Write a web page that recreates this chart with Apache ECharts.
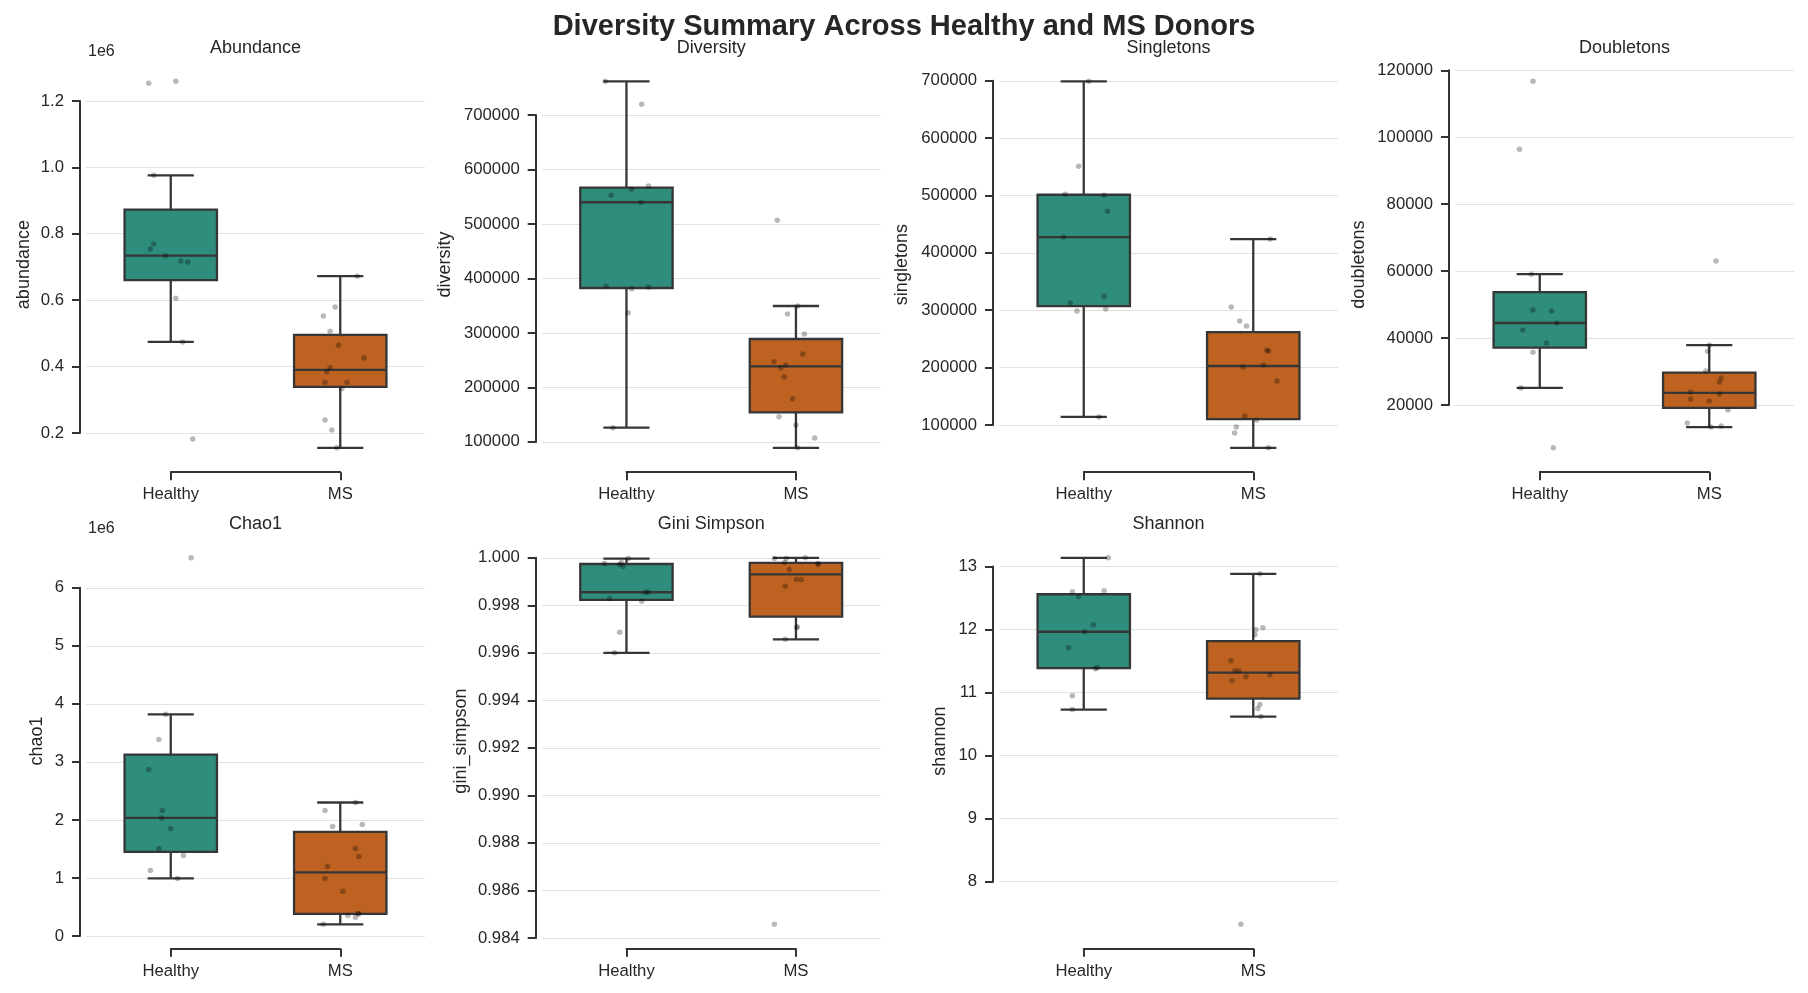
<!DOCTYPE html>
<html>
<head>
<meta charset="utf-8">
<script src="https://cdn.jsdelivr.net/npm/echarts@6/dist/echarts.min.js"></script>
<style>
html, body { margin: 0; padding: 0; background: #fff; }
#chart { width: 1808px; height: 993px; }
</style>
</head>
<body>
<div id="chart"></div>
<script>
// diversity metrics per donor; *Dx = strip jitter (category units)
const groups = ['Healthy', 'MS'];

const abundanceHealthy = [1253000, 1259000, 976000, 769000, 754000, 734000, 718000, 715000, 606000, 474000, 182000];
const abundanceHealthyDx = [-0.13, 0.03, -0.10, -0.10, -0.12, -0.03, 0.06, 0.10, 0.03, 0.07, 0.13];
const abundanceMs = [672000, 579000, 552000, 506000, 464000, 426000, 396000, 384000, 353000, 353000, 334000, 239000, 209000, 155000];
const abundanceMsDx = [0.10, -0.03, -0.10, -0.06, -0.01, 0.14, -0.06, -0.08, -0.09, 0.04, 0.01, -0.09, -0.05, -0.02];

const diversityHealthy = [762000, 720000, 570000, 564000, 553000, 540000, 386000, 384000, 381000, 337000, 126000];
const diversityHealthyDx = [-0.125, 0.09, 0.13, 0.03, -0.09, 0.085, -0.12, 0.13, 0.03, 0.01, -0.08];
const diversityMs = [507000, 349500, 335000, 298000, 261500, 247000, 241000, 236000, 219000, 179000, 146000, 131000, 107000, 89000];
const diversityMsDx = [-0.11, 0.01, -0.05, 0.05, 0.04, -0.13, -0.06, -0.09, -0.07, -0.02, -0.10, 0.00, 0.11, 0.01];

const singletonsHealthy = [699000, 551000, 502000, 500500, 472500, 427500, 324500, 312500, 302000, 298500, 114000];
const singletonsHealthyDx = [0.03, -0.03, -0.11, 0.12, 0.14, -0.12, 0.12, -0.08, 0.13, -0.04, 0.09];
const singletonsMs = [424000, 305500, 281000, 272500, 230000, 229000, 204500, 201000, 176500, 115500, 108500, 96500, 86000, 60000];
const singletonsMsDx = [0.10, -0.13, -0.08, -0.04, 0.08, 0.09, 0.06, -0.06, 0.14, -0.05, 0.02, -0.10, -0.11, 0.09];

const doubletonsHealthy = [116700, 96400, 59100, 48400, 48100, 44500, 42400, 38500, 35800, 25100, 7200];
const doubletonsHealthyDx = [-0.04, -0.12, -0.05, -0.04, 0.07, 0.10, -0.10, 0.04, -0.04, -0.11, 0.08];
const doubletonsMs = [63000, 37900, 36100, 30200, 28100, 26900, 23900, 23300, 21800, 21200, 18500, 14600, 13400, 13700];
const doubletonsMsDx = [0.04, 0.00, -0.01, -0.02, 0.07, 0.06, -0.11, 0.06, -0.11, 0.00, 0.11, -0.13, 0.01, 0.07];

const chao1Healthy = [6516000, 3820000, 3384000, 2868000, 2162000, 2035000, 1853000, 1508000, 1388000, 1130000, 992000];
const chao1HealthyDx = [0.12, -0.03, -0.07, -0.13, -0.05, -0.055, 0.00, -0.07, 0.075, -0.12, 0.04];
const chao1Ms = [2300000, 2162000, 1922000, 1887000, 1508000, 1371000, 1199000, 992000, 769000, 388000, 378000, 355000, 321000, 200000];
const chao1MsDx = [0.09, -0.09, 0.13, -0.045, 0.09, 0.11, -0.075, -0.09, 0.015, 0.105, 0.11, 0.045, 0.09, -0.10];

const giniHealthy = [0.99997, 0.99980, 0.99976, 0.99972, 0.99964, 0.99855, 0.99855, 0.99829, 0.99817, 0.99687, 0.99600];
const giniHealthyDx = [0.01, -0.03, -0.13, -0.04, -0.02, 0.11, 0.127, -0.10, 0.09, -0.04, -0.07];
const giniMs = [1.00000, 0.99997, 0.99997, 0.99980, 0.99976, 0.99972, 0.99951, 0.99909, 0.99909, 0.99880, 0.99710, 0.99706, 0.99657, 0.98457];
const giniMsDx = [0.055, -0.127, -0.057, -0.068, 0.131, 0.13, -0.039, 0.002, 0.031, -0.063, 0.008, 0.004, -0.063, -0.127];

const shannonHealthy = [13.137, 12.615, 12.599, 12.520, 12.076, 11.965, 11.712, 11.395, 11.379, 10.951, 10.730];
const shannonHealthyDx = [0.145, 0.12, -0.067, -0.031, 0.057, 0.004, -0.09, 0.08, 0.069, -0.067, -0.067];
const shannonMs = [12.884, 12.029, 11.997, 11.918, 11.506, 11.347, 11.347, 11.284, 11.252, 11.189, 10.809, 10.746, 10.619, 7.324];
const shannonMsDx = [0.039, 0.057, 0.016, 0.01, -0.131, -0.108, -0.084, 0.098, -0.043, -0.125, 0.039, 0.027, 0.045, -0.073];

// tick values
const abundanceTicks = [200000, 400000, 600000, 800000, 1000000, 1200000];
const diversityTicks = [100000, 200000, 300000, 400000, 500000, 600000, 700000];
const singletonsTicks = [100000, 200000, 300000, 400000, 500000, 600000, 700000];
const doubletonsTicks = [20000, 40000, 60000, 80000, 100000, 120000];
const chao1Ticks = [0, 1000000, 2000000, 3000000, 4000000, 5000000, 6000000];
const giniTicks = [0.984, 0.986, 0.988, 0.990, 0.992, 0.994, 0.996, 0.998, 1.000];
const shannonTicks = [8, 9, 10, 11, 12, 13];

const FONT = '"Liberation Sans", Arial, sans-serif';
const TEXT = '#262626';
const EDGE = '#363636';
const SPINE = '#333333';
const GRIDLINE = '#e2e2e2';
const FILLS = ['#2f8d7d', '#bd6220'];
const BOX_W = 0.545;
const OFFSET = 6;
const PW = 339, PH = 403.2;
const colLeft = [86, 541.7, 999, 1455];
const rowTop = [63, 539.5];

const panels = [
    { title: 'Abundance', label: 'abundance', h: abundanceHealthy, hDx: abundanceHealthyDx, m: abundanceMs, mDx: abundanceMsDx,
      ticks: abundanceTicks, fmt: v => (v / 1e6).toFixed(1), exp: '1e6', col: 0, row: 0, nameGap: 53 },
    { title: 'Diversity', label: 'diversity', h: diversityHealthy, hDx: diversityHealthyDx, m: diversityMs, mDx: diversityMsDx,
      ticks: diversityTicks, fmt: v => String(Math.round(v)), col: 1, row: 0, nameGap: 88 },
    { title: 'Singletons', label: 'singletons', h: singletonsHealthy, hDx: singletonsHealthyDx, m: singletonsMs, mDx: singletonsMsDx,
      ticks: singletonsTicks, fmt: v => String(Math.round(v)), col: 2, row: 0, nameGap: 88 },
    { title: 'Doubletons', label: 'doubletons', h: doubletonsHealthy, hDx: doubletonsHealthyDx, m: doubletonsMs, mDx: doubletonsMsDx,
      ticks: doubletonsTicks, fmt: v => String(Math.round(v)), col: 3, row: 0, nameGap: 87 },
    { title: 'Chao1', label: 'chao1', h: chao1Healthy, hDx: chao1HealthyDx, m: chao1Ms, mDx: chao1MsDx,
      ticks: chao1Ticks, fmt: v => (v / 1e6).toFixed(0), exp: '1e6', col: 0, row: 1, nameGap: 40 },
    { title: 'Gini Simpson', label: 'gini_simpson', h: giniHealthy, hDx: giniHealthyDx, m: giniMs, mDx: giniMsDx,
      ticks: giniTicks, fmt: v => v.toFixed(3), col: 1, row: 1, nameGap: 72 },
    { title: 'Shannon', label: 'shannon', h: shannonHealthy, hDx: shannonHealthyDx, m: shannonMs, mDx: shannonMsDx,
      ticks: shannonTicks, fmt: v => String(Math.round(v)), col: 2, row: 1, nameGap: 50 }
];

// seaborn-style box stats: linear quartiles, whiskers to furthest point within 1.5 IQR
function quantile(s, p) {
    const h = (s.length - 1) * p;
    const lo = Math.floor(h);
    const next = lo + 1 < s.length ? s[lo + 1] : s[lo];
    return s[lo] + (h - lo) * (next - s[lo]);
}
function boxStats(vals) {
    const s = vals.slice().sort((a, b) => a - b);
    const q1 = quantile(s, 0.25), med = quantile(s, 0.5), q3 = quantile(s, 0.75);
    const iqr = q3 - q1;
    const low = s.find(v => v >= q1 - 1.5 * iqr);
    const high = s.slice().reverse().find(v => v <= q3 + 1.5 * iqr);
    return [low, q1, med, q3, high];
}

function renderBox(params, api) {
    const x = api.value(0);
    const pLow = api.coord([x, api.value(1)]);
    const pQ1 = api.coord([x, api.value(2)]);
    const pMed = api.coord([x, api.value(3)]);
    const pQ3 = api.coord([x, api.value(4)]);
    const pHigh = api.coord([x, api.value(5)]);
    const hw = api.size([1, 0])[0] * BOX_W / 2;
    const cw = hw / 2;
    const cx = pMed[0];
    const line = { stroke: EDGE, lineWidth: 2.3 };
    return {
        type: 'group',
        children: [
            { type: 'line', shape: { x1: cx, y1: pLow[1], x2: cx, y2: pQ1[1] }, style: line },
            { type: 'line', shape: { x1: cx, y1: pQ3[1], x2: cx, y2: pHigh[1] }, style: line },
            { type: 'line', shape: { x1: cx - cw, y1: pLow[1], x2: cx + cw, y2: pLow[1] }, style: line },
            { type: 'line', shape: { x1: cx - cw, y1: pHigh[1], x2: cx + cw, y2: pHigh[1] }, style: line },
            { type: 'rect', shape: { x: cx - hw, y: pQ3[1], width: hw * 2, height: pQ1[1] - pQ3[1] },
              style: { fill: FILLS[params.dataIndex], stroke: EDGE, lineWidth: 2.3 } },
            { type: 'line', shape: { x1: cx - hw, y1: pMed[1], x2: cx + hw, y2: pMed[1] }, style: line }
        ]
    };
}

const grid = [], xAxis = [], yAxis = [], series = [];
const graphic = [{
    type: 'text', x: 904, y: 27,
    style: { text: 'Diversity Summary Across Healthy and MS Donors', fontSize: 29, fontWeight: 'bold',
             fontFamily: FONT, fill: TEXT, align: 'center', verticalAlign: 'middle' }
}];

panels.forEach((p, i) => {
    const left = colLeft[p.col], top = rowTop[p.row];
    const all = p.h.concat(p.m);
    const lo = Math.min(...all), hi = Math.max(...all), pad = (hi - lo) * 0.05;
    const yMin = lo - pad, yMax = hi + pad;
    const t0 = p.ticks[0], t1 = p.ticks[p.ticks.length - 1];
    const step = +(p.ticks[1] - p.ticks[0]).toPrecision(8);
    const toPx = v => top + (yMax - v) / (yMax - yMin) * PH;
    const g = i * 3;

    // main plotting area
    grid.push({ left: left, top: top, width: PW, height: PH, outerBoundsMode: 'none' });
    // trimmed y spine + gridlines
    grid.push({ left: left, top: toPx(t1), width: PW, height: toPx(t0) - toPx(t1), outerBoundsMode: 'none' });
    // trimmed x spine
    grid.push({ left: left + PW / 4, top: top + PH + OFFSET - 1, width: PW / 2, height: 1, outerBoundsMode: 'none' });

    xAxis.push({ gridIndex: g, type: 'value', min: -0.5, max: 1.5, show: false });
    yAxis.push({
        gridIndex: g, type: 'value', min: yMin, max: yMax,
        name: p.label, nameLocation: 'middle', nameGap: p.nameGap,
        nameTextStyle: { fontSize: 18, color: TEXT, fontFamily: FONT },
        axisLine: { show: false }, axisTick: { show: false }, axisLabel: { show: false }, splitLine: { show: false }
    });

    xAxis.push({ gridIndex: g + 1, type: 'value', min: -0.5, max: 1.5, show: false });
    yAxis.push({
        gridIndex: g + 1, type: 'value', min: t0, max: t1, interval: step, offset: OFFSET,
        axisLine: { show: true, onZero: false, lineStyle: { color: SPINE, width: 2 } },
        axisTick: { show: true, length: 8, lineStyle: { color: SPINE, width: 2 } },
        axisLabel: { margin: 16, formatter: p.fmt, fontSize: 16.7, color: TEXT, fontFamily: FONT },
        splitLine: { show: true, lineStyle: { color: GRIDLINE, width: 1 } }
    });

    xAxis.push({
        gridIndex: g + 2, type: 'category', data: groups, boundaryGap: false,
        axisLine: { show: true, onZero: false, lineStyle: { color: SPINE, width: 2 } },
        axisTick: { show: true, length: 8, lineStyle: { color: SPINE, width: 2 } },
        axisLabel: { margin: 14, fontSize: 16.7, color: TEXT, fontFamily: FONT },
        splitLine: { show: false }
    });
    yAxis.push({ gridIndex: g + 2, type: 'value', show: false });

    series.push({
        type: 'custom', xAxisIndex: g, yAxisIndex: g, silent: true, z: 2,
        data: [[0].concat(boxStats(p.h)), [1].concat(boxStats(p.m))],
        renderItem: renderBox
    });
    series.push({
        type: 'scatter', xAxisIndex: g, yAxisIndex: g, silent: true, z: 3,
        symbolSize: 5.5, itemStyle: { color: 'rgba(0,0,0,0.35)' },
        data: p.h.map((v, k) => [p.hDx[k], v]).concat(p.m.map((v, k) => [1 + p.mDx[k], v]))
    });

    graphic.push({
        type: 'text', x: left + PW / 2, y: top - (p.row === 0 ? 14.5 : 15.7),
        style: { text: p.title, fontSize: 18, fontFamily: FONT, fill: TEXT, align: 'center', verticalAlign: 'middle' }
    });
    if (p.exp) {
        graphic.push({
            type: 'text', x: left + 2, y: top - 11,
            style: { text: p.exp, fontSize: 16, fontFamily: FONT, fill: TEXT, align: 'left', verticalAlign: 'middle' }
        });
    }
});

const chart = echarts.init(document.getElementById('chart'));
chart.setOption({
    backgroundColor: '#ffffff',
    animation: false,
    grid: grid,
    xAxis: xAxis,
    yAxis: yAxis,
    series: series,
    graphic: graphic
});
</script>
</body>
</html>
